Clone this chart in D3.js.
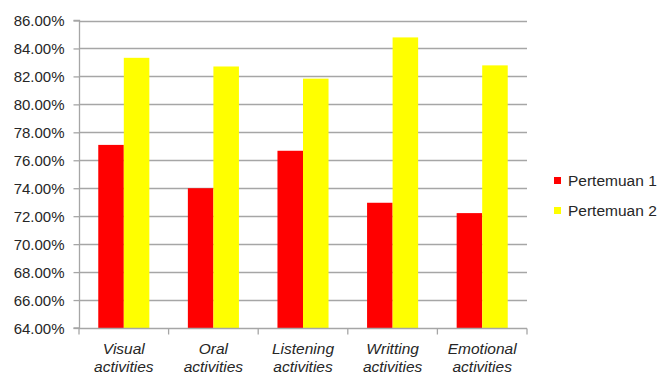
<!DOCTYPE html>
<html><head><meta charset="utf-8">
<script src="https://cdn.jsdelivr.net/npm/d3@7"></script>
<style>body{margin:0;background:#fff}svg{display:block}text{font-family:"Liberation Sans",Arial,sans-serif;fill:#262626}</style>
</head><body><svg id="c" width="662" height="374"></svg>
<script>
const categories = [["Visual","activities"],["Oral","activities"],["Listening","activities"],["Writting","activities"],["Emotional","activities"]];
const seriesNames = ["Pertemuan 1","Pertemuan 2"];
const pertemuan1 = [0.7710, 0.7400, 0.7668, 0.7296, 0.7222];
const pertemuan2 = [0.8333, 0.8271, 0.8184, 0.8479, 0.8279];
const colors = ["#FF0000","#FFFF00"];
const yTicks = [0.64,0.66,0.68,0.70,0.72,0.74,0.76,0.78,0.80,0.82,0.84,0.86];

const svg = d3.select("#c");
const L=79, R=527, T=20.5, B=328;
const x0 = d3.scaleBand().domain(d3.range(categories.length)).range([L,R]);
const bw = x0.bandwidth();
const x1 = d3.scaleBand().domain(seriesNames).range([bw*0.215, bw*0.785]);
const y = d3.scaleLinear().domain([0.64,0.86]).range([B,T]);
const fmt = d => (d*100).toFixed(2)+"%";

// gridlines
svg.append("g").selectAll("line").data(yTicks.slice(1)).join("line")
  .attr("x1",L).attr("x2",R).attr("y1",d=>Math.round(y(d))+0.5).attr("y2",d=>Math.round(y(d))+0.5)
  .attr("stroke","#A6A6A6").attr("stroke-width",1.3);

// bars
const data = [pertemuan1, pertemuan2];
const g = svg.append("g");
categories.forEach((c,i)=>{
  seriesNames.forEach((s,j)=>{
    g.append("rect").attr("x",x0(i)+x1(s)).attr("width",x1.bandwidth())
     .attr("y",y(data[j][i])).attr("height",B-y(data[j][i])).attr("fill",colors[j]);
  });
});

// y axis
const ya = svg.append("g").attr("transform",`translate(${L+0.5},0)`)
  .call(d3.axisLeft(y).tickValues(yTicks).tickFormat(fmt).tickSize(6).tickPadding(9));
ya.select(".domain").attr("stroke","#A6A6A6").attr("stroke-width",1.3).attr("d",`M-6,${T}H0V${B}H-6`);
ya.selectAll(".tick line").attr("stroke","#A6A6A6").attr("stroke-width",1.3);
ya.selectAll(".tick text").style("font-size","15px").attr("fill","#262626").attr("dy","0.36em");

// x axis
const xa = svg.append("g").attr("transform",`translate(0,${B+0.5})`);
xa.append("line").attr("x1",L).attr("x2",R).attr("stroke","#A6A6A6").attr("stroke-width",1.3);
xa.selectAll("line.t").data(d3.range(categories.length+1)).join("line").attr("class","t")
  .attr("x1",d=>L+d*bw).attr("x2",d=>L+d*bw).attr("y1",0).attr("y2",6)
  .attr("stroke","#A6A6A6").attr("stroke-width",1.3);
const lab = svg.append("g").selectAll("text").data(categories).join("text")
  .attr("text-anchor","middle").style("font-size","15.5px").style("font-style","italic")
  .attr("transform",(d,i)=>`translate(${x0(i)+bw/2},0)`);
lab.append("tspan").attr("x",0).attr("y",354).text(d=>d[0]);
lab.append("tspan").attr("x",0).attr("y",372).text(d=>d[1]);

// legend
const lg = svg.append("g").selectAll("g").data(seriesNames).join("g")
  .attr("transform",(d,i)=>`translate(554,${177+i*30})`);
lg.append("rect").attr("width",7).attr("height",7).attr("fill",(d,i)=>colors[i]);
lg.append("text").attr("x",14).attr("y",9).style("font-size","15.5px").text(d=>d);
</script></body></html>
